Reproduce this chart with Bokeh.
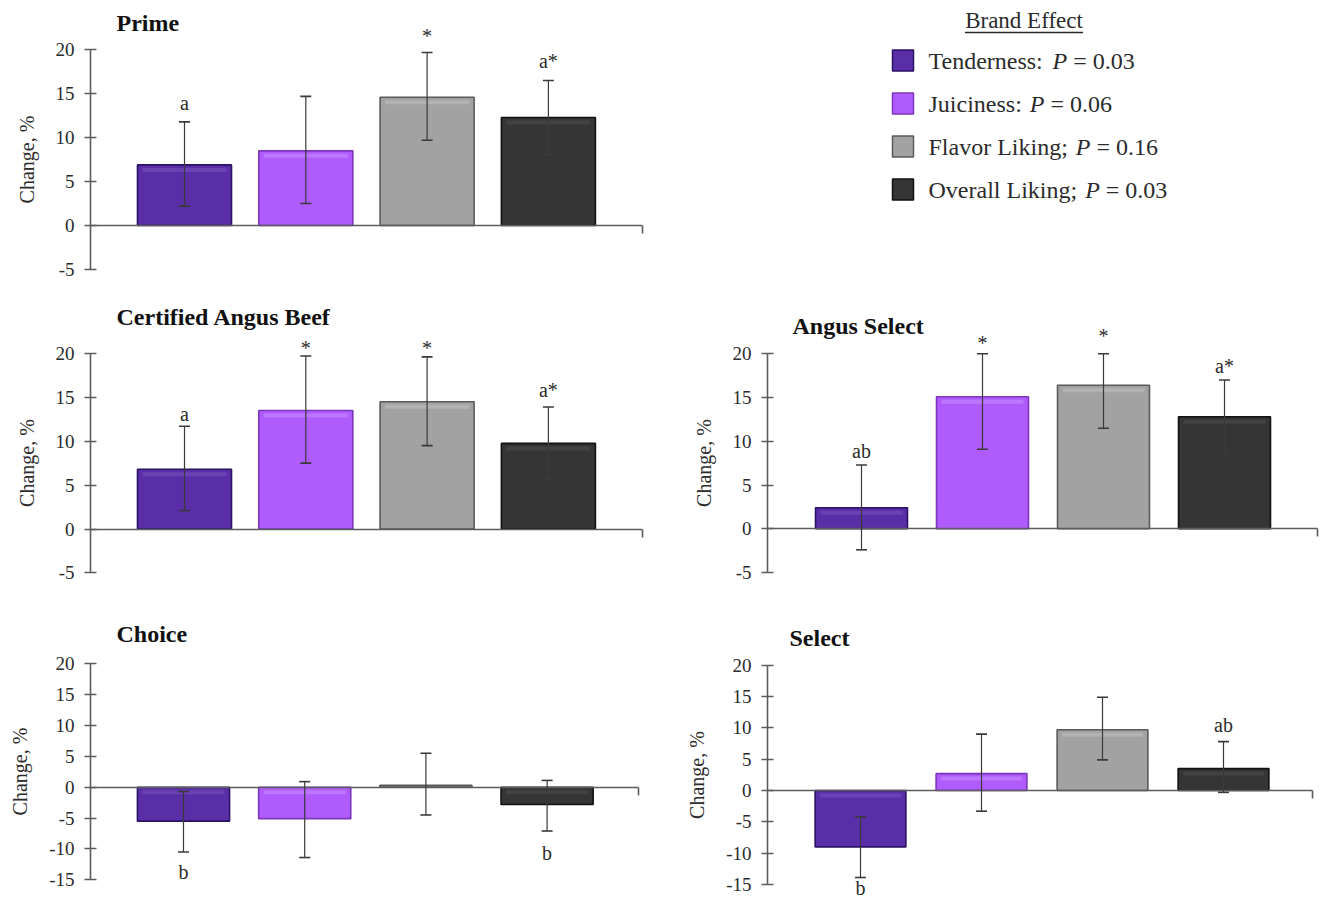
from bokeh.plotting import figure
from bokeh.models import Range1d, FixedTicker, ColumnDataSource, Whisker, TeeHead, CustomJSTickFormatter
from bokeh.layouts import row, column
from bokeh.embed import file_html
from bokeh.resources import INLINE
from bokeh.core.properties import value

# ---------------- data ----------------
attributes = ["Tenderness", "Juiciness", "Flavor Liking", "Overall Liking"]
legend_sep = [":", ":", ";", ";"]
p_values = ["0.03", "0.06", "0.16", "0.03"]

prime_change = [6.9, 8.5, 14.6, 12.3]
prime_upper = [11.8, 14.7, 19.7, 16.5]
prime_lower = [2.2, 2.5, 9.7, 8.1]
prime_letters = ["a", "", "*", "a*"]
prime_letter_y = [13.9, None, 21.6, 18.7]

cab_change = [6.8, 13.5, 14.5, 9.75]
cab_upper = [11.7, 19.7, 19.6, 13.9]
cab_lower = [2.1, 7.5, 9.5, 5.6]
cab_letters = ["a", "*", "*", "a*"]
cab_letter_y = [13.1, 20.6, 20.6, 15.8]

angus_select_change = [2.4, 15.1, 16.4, 12.8]
angus_select_upper = [7.3, 20.0, 20.0, 17.0]
angus_select_lower = [-2.4, 9.1, 11.5, 8.6]
angus_select_letters = ["ab", "*", "*", "a*"]
angus_select_letter_y = [8.9, 21.2, 22.0, 18.6]

choice_change = [-5.5, -5.1, 0.3, -2.8]
choice_upper = [-0.7, 0.9, 5.5, 1.1]
choice_lower = [-10.5, -11.4, -4.5, -7.1]
choice_letters = ["b", "", "", "b"]
choice_letter_y = [-13.7, None, None, -10.6]

select_change = [-9.0, 2.7, 9.7, 3.5]
select_upper = [-4.2, 9.0, 14.9, 7.8]
select_lower = [-13.9, -3.3, 4.9, -0.3]
select_letters = ["b", "", "", "ab"]
select_letter_y = [-15.6, None, None, 10.5]

ticks_top = [-5, 0, 5, 10, 15, 20]
ticks_bottom = [-15, -10, -5, 0, 5, 10, 15, 20]

# ---------------- style ----------------
colors = ["#5a2ea6", "#b05cfc", "#a2a2a2", "#353535"]
edge_colors = ["#2a1264", "#7b36bb", "#5a5a5a", "#111111"]
highlight = ["#6c45b6", "#bf79ff", "#b4b4b4", "#444444"]
FONT = "Liberation Serif"
AXIS_COLOR = "#5c5c5c"
TEXT_COLOR = "#2b2b2b"


def make_panel(title, change, upper, lower, letters, letter_y, ticks, g):
    fx0, fy0, fw, fh = g["fig"]
    c1, sp, zero, ppu = g["c1"], g["sp"], g["zero"], g["ppu"]

    def X(px):
        return 1 + (px - c1) / sp

    def Y(py):
        return (zero - py) / ppu

    p = figure(width=fw, height=fh, output_backend="svg", toolbar_location=None,
               x_range=Range1d(X(fx0), X(fx0 + fw)),
               y_range=Range1d(Y(fy0 + fh), Y(fy0)),
               min_border=0, min_border_left=0, min_border_right=0,
               min_border_top=0, min_border_bottom=0)
    p.outline_line_color = None
    p.grid.visible = False
    p.background_fill_color = "white"
    p.border_fill_color = "white"

    xs = [1, 2, 3, 4]
    bw = g["bw"]
    p.vbar(x=xs, top=change, bottom=0, width=bw, fill_color=colors,
           line_color=edge_colors, line_width=1.6)

    # bevel highlight band near the top edge of each bar
    inset = 3.0 / ppu
    band = 4.0 / ppu
    bx, btop, bbot, bcol = [], [], [], []
    for i, v in enumerate(change):
        if abs(v) * ppu > 16:
            t = max(v, 0) - inset
            bx.append(xs[i]); btop.append(t); bbot.append(t - band); bcol.append(highlight[i])
    if bx:
        p.vbar(x=bx, top=btop, bottom=bbot, width=bw - 10.0 / sp, fill_color=bcol,
               line_color=None, fill_alpha=0.9)

    src = ColumnDataSource(dict(x=xs, upper=upper, lower=lower))
    w = Whisker(source=src, base="x", upper="upper", lower="lower",
                line_color="#3a3a3a", line_width=1.2, level="overlay",
                upper_head=TeeHead(size=11, line_color="#3a3a3a", line_width=1.6),
                lower_head=TeeHead(size=11, line_color="#3a3a3a", line_width=1.6))
    p.add_layout(w)

    lx = [xs[i] for i in range(4) if letters[i]]
    ly = [letter_y[i] for i in range(4) if letters[i]]
    lt = [letters[i] for i in range(4) if letters[i]]
    p.text(x=lx, y=ly, text=lt, text_align="center", text_baseline="middle",
           text_font=value(FONT), text_font_size="20px", text_color=TEXT_COLOR)

    # panel title
    p.text(x=[X(g["title"][0])], y=[Y(g["title"][1])], text=[title],
           text_align="left", text_baseline="middle", text_font=value(FONT),
           text_font_size="24px", text_font_style="bold", text_color="#111111")

    # y axis
    ya = p.yaxis[0]
    ya.fixed_location = X(g["axis"])
    ya.bounds = (ticks[0], ticks[-1])
    ya.ticker = FixedTicker(ticks=ticks)
    ya.formatter = CustomJSTickFormatter(code="return String(tick)")
    ya.minor_tick_line_color = None
    ya.major_tick_in = 6
    ya.major_tick_out = 6
    ya.axis_line_color = AXIS_COLOR
    ya.axis_line_width = 1.6
    ya.major_tick_line_color = AXIS_COLOR
    ya.major_tick_line_width = 1.6
    ya.major_label_text_font = FONT
    ya.major_label_text_font_size = "19px"
    ya.major_label_text_color = TEXT_COLOR
    ya.major_label_standoff = 10
    ya.axis_label = "Change, %"
    ya.axis_label_text_font = FONT
    ya.axis_label_text_font_size = "20px"
    ya.axis_label_text_font_style = "normal"
    ya.axis_label_text_color = TEXT_COLOR
    ya.axis_label_standoff = 15

    # x axis at zero
    xa = p.xaxis[0]
    xa.fixed_location = 0
    xend = X(g["xend"])
    xa.bounds = (X(g["axis"]), xend)
    xa.ticker = FixedTicker(ticks=[xend])
    xa.formatter = CustomJSTickFormatter(code="return ''")
    xa.minor_tick_line_color = None
    xa.major_tick_in = 0
    xa.major_tick_out = 8
    xa.axis_line_color = AXIS_COLOR
    xa.axis_line_width = 1.6
    xa.major_tick_line_color = AXIS_COLOR
    xa.major_tick_line_width = 1.6
    return p


LEFT_W, RIGHT_W = 663, 656
ROW_H = [292, 308, 300]
geoms = {
    "prime": dict(fig=(0, 0, LEFT_W, ROW_H[0]), axis=90, c1=184, sp=121.3, zero=225, ppu=8.785,
                  xend=642, title=(116, 22), bw=0.775),
    "cab": dict(fig=(0, 292, LEFT_W, ROW_H[1]), axis=90, c1=184, sp=121.3, zero=528.5, ppu=8.78,
                xend=642, title=(116, 316), bw=0.775),
    "as": dict(fig=(663, 292, RIGHT_W, ROW_H[1]), axis=767, c1=861, sp=121.0, zero=528.3, ppu=8.75,
               xend=1317, title=(792, 325), bw=0.76),
    "choice": dict(fig=(0, 600, LEFT_W, ROW_H[2]), axis=90, c1=183, sp=121.2, zero=786.7, ppu=6.17,
                   xend=638, title=(116, 633), bw=0.76),
    "select": dict(fig=(663, 600, RIGHT_W, ROW_H[2]), axis=767, c1=860, sp=121.0, zero=790, ppu=6.26,
                   xend=1312, title=(789, 637), bw=0.75),
}

p_prime = make_panel("Prime", prime_change, prime_upper, prime_lower, prime_letters,
                     prime_letter_y, ticks_top, geoms["prime"])
p_cab = make_panel("Certified Angus Beef", cab_change, cab_upper, cab_lower, cab_letters,
                   cab_letter_y, ticks_top, geoms["cab"])
p_as = make_panel("Angus Select", angus_select_change, angus_select_upper, angus_select_lower,
                  angus_select_letters, angus_select_letter_y, ticks_top, geoms["as"])
p_choice = make_panel("Choice", choice_change, choice_upper, choice_lower, choice_letters,
                      choice_letter_y, ticks_bottom, geoms["choice"])
p_select = make_panel("Select", select_change, select_upper, select_lower, select_letters,
                      select_letter_y, ticks_bottom, geoms["select"])

# ---------------- legend ----------------
TIMES = {'T': 611, 'e': 444, 'n': 500, 'd': 500, 'r': 333, 's': 389, ':': 278, ' ': 250,
         'J': 389, 'u': 500, 'i': 278, 'c': 444, 'F': 556, 'l': 278, 'a': 444, 'v': 500,
         'o': 500, 'L': 611, 'k': 500, 'g': 500, ';': 278, 'O': 722, '=': 564, '.': 250,
         '0': 500, '1': 500, '3': 500, '6': 500, 'B': 667, 'E': 611, 'f': 333, 't': 278}


def tw(s, fs):
    return sum(TIMES.get(ch, 500) for ch in s) * fs / 1000.0


LX0 = 663
LW, LH = RIGHT_W, ROW_H[0]
leg = figure(width=LW, height=LH, output_backend="svg", toolbar_location=None,
             x_range=Range1d(LX0, LX0 + LW), y_range=Range1d(LH, 0), min_border=0,
             x_axis_location=None, y_axis_location=None)
leg.outline_line_color = None
leg.grid.visible = False

fs_leg = 24
row_y = [60 + 43 * i for i in range(len(attributes))]
sw_x = [902.5] * len(attributes)
leg.scatter(x=sw_x, y=row_y, marker="square", size=21, fill_color=colors,
            line_color=edge_colors, line_width=1.5)

tx0 = 928
left_txt = [f"{a}{s}" for a, s in zip(attributes, legend_sep)]
px_ = [tx0 + tw(t + " ", fs_leg) + 2 for t in left_txt]
rest_txt = [f"= {pv}" for pv in p_values]
rx = [x + (611 + 250) * fs_leg / 1000.0 for x in px_]
leg.text(x=[tx0] * 4, y=row_y, text=left_txt, text_baseline="middle", text_align="left",
         text_font=value(FONT), text_font_size=f"{fs_leg}px", text_color=TEXT_COLOR)
leg.text(x=px_, y=row_y, text=["P"] * 4, text_baseline="middle", text_align="left",
         text_font=value(FONT), text_font_size=f"{fs_leg}px", text_font_style="italic",
         text_color=TEXT_COLOR)
leg.text(x=rx, y=row_y, text=rest_txt, text_baseline="middle", text_align="left",
         text_font=value(FONT), text_font_size=f"{fs_leg}px", text_color=TEXT_COLOR)

head = "Brand Effect"
fs_head = 23
hx, hy = 1023.5, 20
hw = tw(head, fs_head)
leg.text(x=[hx], y=[hy], text=[head], text_align="center", text_baseline="middle",
         text_font=value(FONT), text_font_size=f"{fs_head}px", text_color=TEXT_COLOR)
leg.segment(x0=[hx - hw / 2], y0=[hy + 12], x1=[hx + hw / 2], y1=[hy + 12],
            line_color=TEXT_COLOR, line_width=1.3)

layout = column(row(p_prime, leg), row(p_cab, p_as), row(p_choice, p_select))
open("out.html", "w").write(file_html(layout, INLINE))
